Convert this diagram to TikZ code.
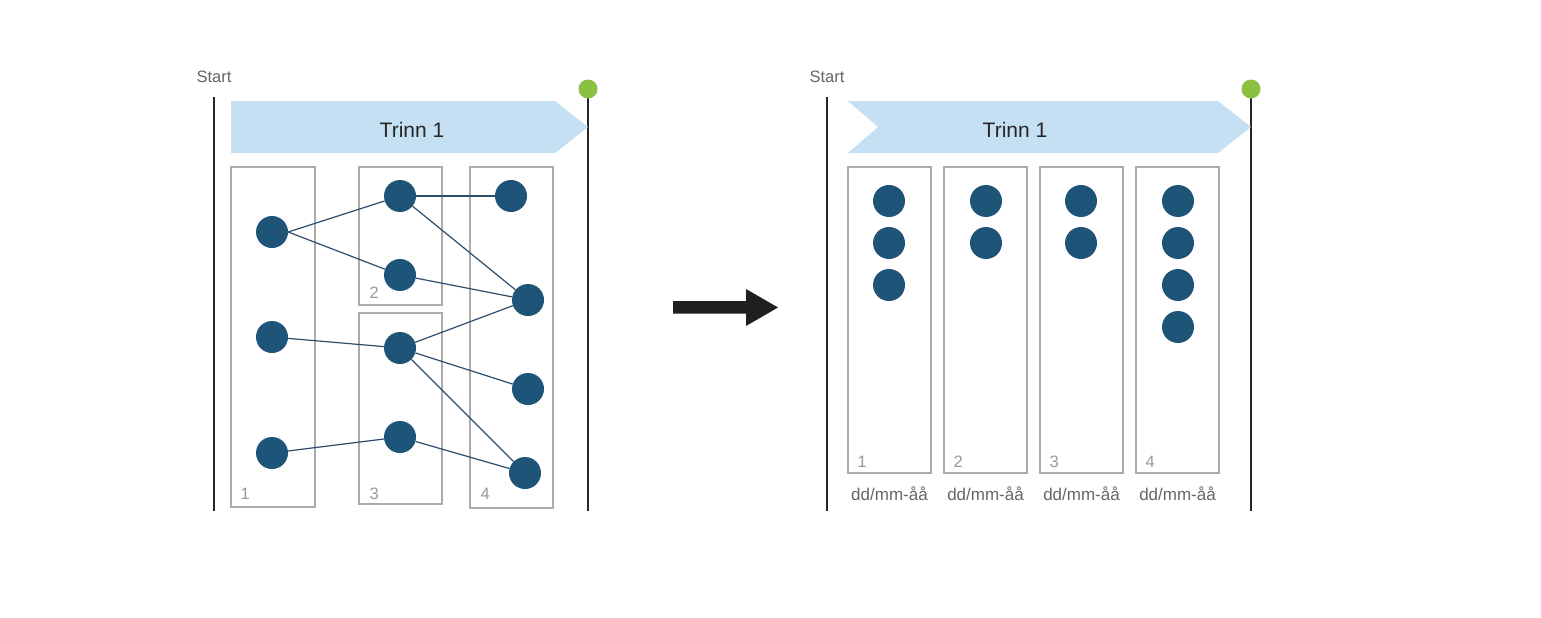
\documentclass[tikz,border=0pt]{standalone}
\usepackage{fontspec}
\setmainfont{Liberation Sans}
\begin{document}
\begin{tikzpicture}[x=1pt,y=-1pt,
  dot/.style={circle,fill=dotblue,draw=none,minimum size=32pt,inner sep=0pt},
  grp/.style={draw=boxgray,line width=2.5pt},
  grplabel/.style={text=numgray,font=\fontsize{16.5}{16.5}\selectfont,anchor=base west},
  link/.style={draw=linkblue,line width=1.2pt},
  timeline/.style={draw=black!85,line width=1.3pt},
  milestone/.style={circle,fill=mgreen,minimum size=19pt,inner sep=0pt},
  banner/.style={fill=bannerblue,draw=none},
  starttxt/.style={text=txtgray,font=\fontsize{16.5}{16.5}\selectfont},
  steptxt/.style={text=black!85,font=\fontsize{21}{21}\selectfont},
  datetxt/.style={text=txtgray,font=\fontsize{17}{17}\selectfont}
]
\definecolor{dotblue}{HTML}{1F5479}
\definecolor{linkblue}{HTML}{2E4D6B}
\definecolor{boxgray}{HTML}{ABABAB}
\definecolor{numgray}{HTML}{999999}
\definecolor{txtgray}{HTML}{666666}
\definecolor{mgreen}{HTML}{8BC043}
\definecolor{bannerblue}{HTML}{C5E0F2}
\fill[white] (0,0) rectangle (1541,618);
\useasboundingbox (0,0) rectangle (1541,618);

% ---------- Left panel ----------
\coordinate (LtopL) at (214,97);
\coordinate (LbotL) at (214,511);
\coordinate (LtopR) at (588,97);
\coordinate (LbotR) at (588,511);
\draw[timeline] (LtopL) -- (LbotL);
\draw[timeline] (LtopR) -- (LbotR);
\node[milestone] (Lgreen) at (588,89) {};
\node[starttxt] (Lstart) at (214,77) {Start};
\fill[banner] (231,101) -- (555,101) -- (588,127) -- (555,153) -- (231,153) -- cycle;
\node[steptxt] (Ltrinn) at (412,130) {Trinn 1};

\draw[grp] (231,167) rectangle (315,507);
\draw[grp] (359,167) rectangle (442,305);
\draw[grp] (359,313) rectangle (442,504);
\draw[grp] (470,167) rectangle (553,508);
\node[grplabel] (Ln1) at (237,499) {1};
\node[grplabel] (Ln2) at (366,298) {2};
\node[grplabel] (Ln3) at (366,499) {3};
\node[grplabel] (Ln4) at (477,499) {4};

\node[dot] (a1) at (272,232) {};
\node[dot] (a2) at (272,337) {};
\node[dot] (a3) at (272,453) {};
\node[dot] (b1) at (400,196) {};
\node[dot] (b2) at (400,275) {};
\node[dot] (b3) at (400,348) {};
\node[dot] (b4) at (400,437) {};
\node[dot] (c1) at (511,196) {};
\node[dot] (c2) at (528,300) {};
\node[dot] (c3) at (528,389) {};
\node[dot] (c4) at (525,473) {};

\draw[link] (a1.east) -- (b1);
\draw[link] (a1.east) -- (b2);
\draw[link] (b1) -- (c1);
\draw[link] (b1) -- (c2);
\draw[link] (b2) -- (c2);
\draw[link] (a2) -- (b3);
\draw[link] (b3) -- (c2);
\draw[link] (b3) -- (c3);
\draw[link] (b3) -- (c4);
\draw[link] (a3) -- (b4);
\draw[link] (b4) -- (c4);

% ---------- Big arrow ----------
\fill[black!88] (673,301) -- (746,301) -- (746,289) -- (778,307.5) -- (746,326) -- (746,313.5) -- (673,313.5) -- cycle;

% ---------- Right panel ----------
\coordinate (RtopL) at (827,97);
\coordinate (RbotL) at (827,511);
\coordinate (RtopR) at (1251,97);
\coordinate (RbotR) at (1251,511);
\draw[timeline] (RtopL) -- (RbotL);
\draw[timeline] (RtopR) -- (RbotR);
\node[milestone] (Rgreen) at (1251,89) {};
\node[starttxt] (Rstart) at (827,77) {Start};
\fill[banner] (848,101) -- (1218,101) -- (1251,127) -- (1218,153) -- (848,153) -- (878,127) -- cycle;
\node[steptxt] (Rtrinn) at (1015,130) {Trinn 1};

\foreach \i/\xl in {1/848,2/944,3/1040,4/1136}{
  \draw[grp] (\xl,167) rectangle (\xl+83,473);
  \node[grplabel] (Rn\i) at (\xl+6,467) {\i};
  \node[datetxt] (Rd\i) at (\xl+41.5,494) {dd/mm-åå};
}
\foreach \y [count=\k] in {201,243,285}{ \node[dot] (p\k) at (889,\y) {}; }
\foreach \y [count=\k] in {201,243}{ \node[dot] (q\k) at (986,\y) {}; }
\foreach \y [count=\k] in {201,243}{ \node[dot] (r\k) at (1081,\y) {}; }
\foreach \y [count=\k] in {201,243,285,327}{ \node[dot] (s\k) at (1178,\y) {}; }
\end{tikzpicture}
\end{document}
